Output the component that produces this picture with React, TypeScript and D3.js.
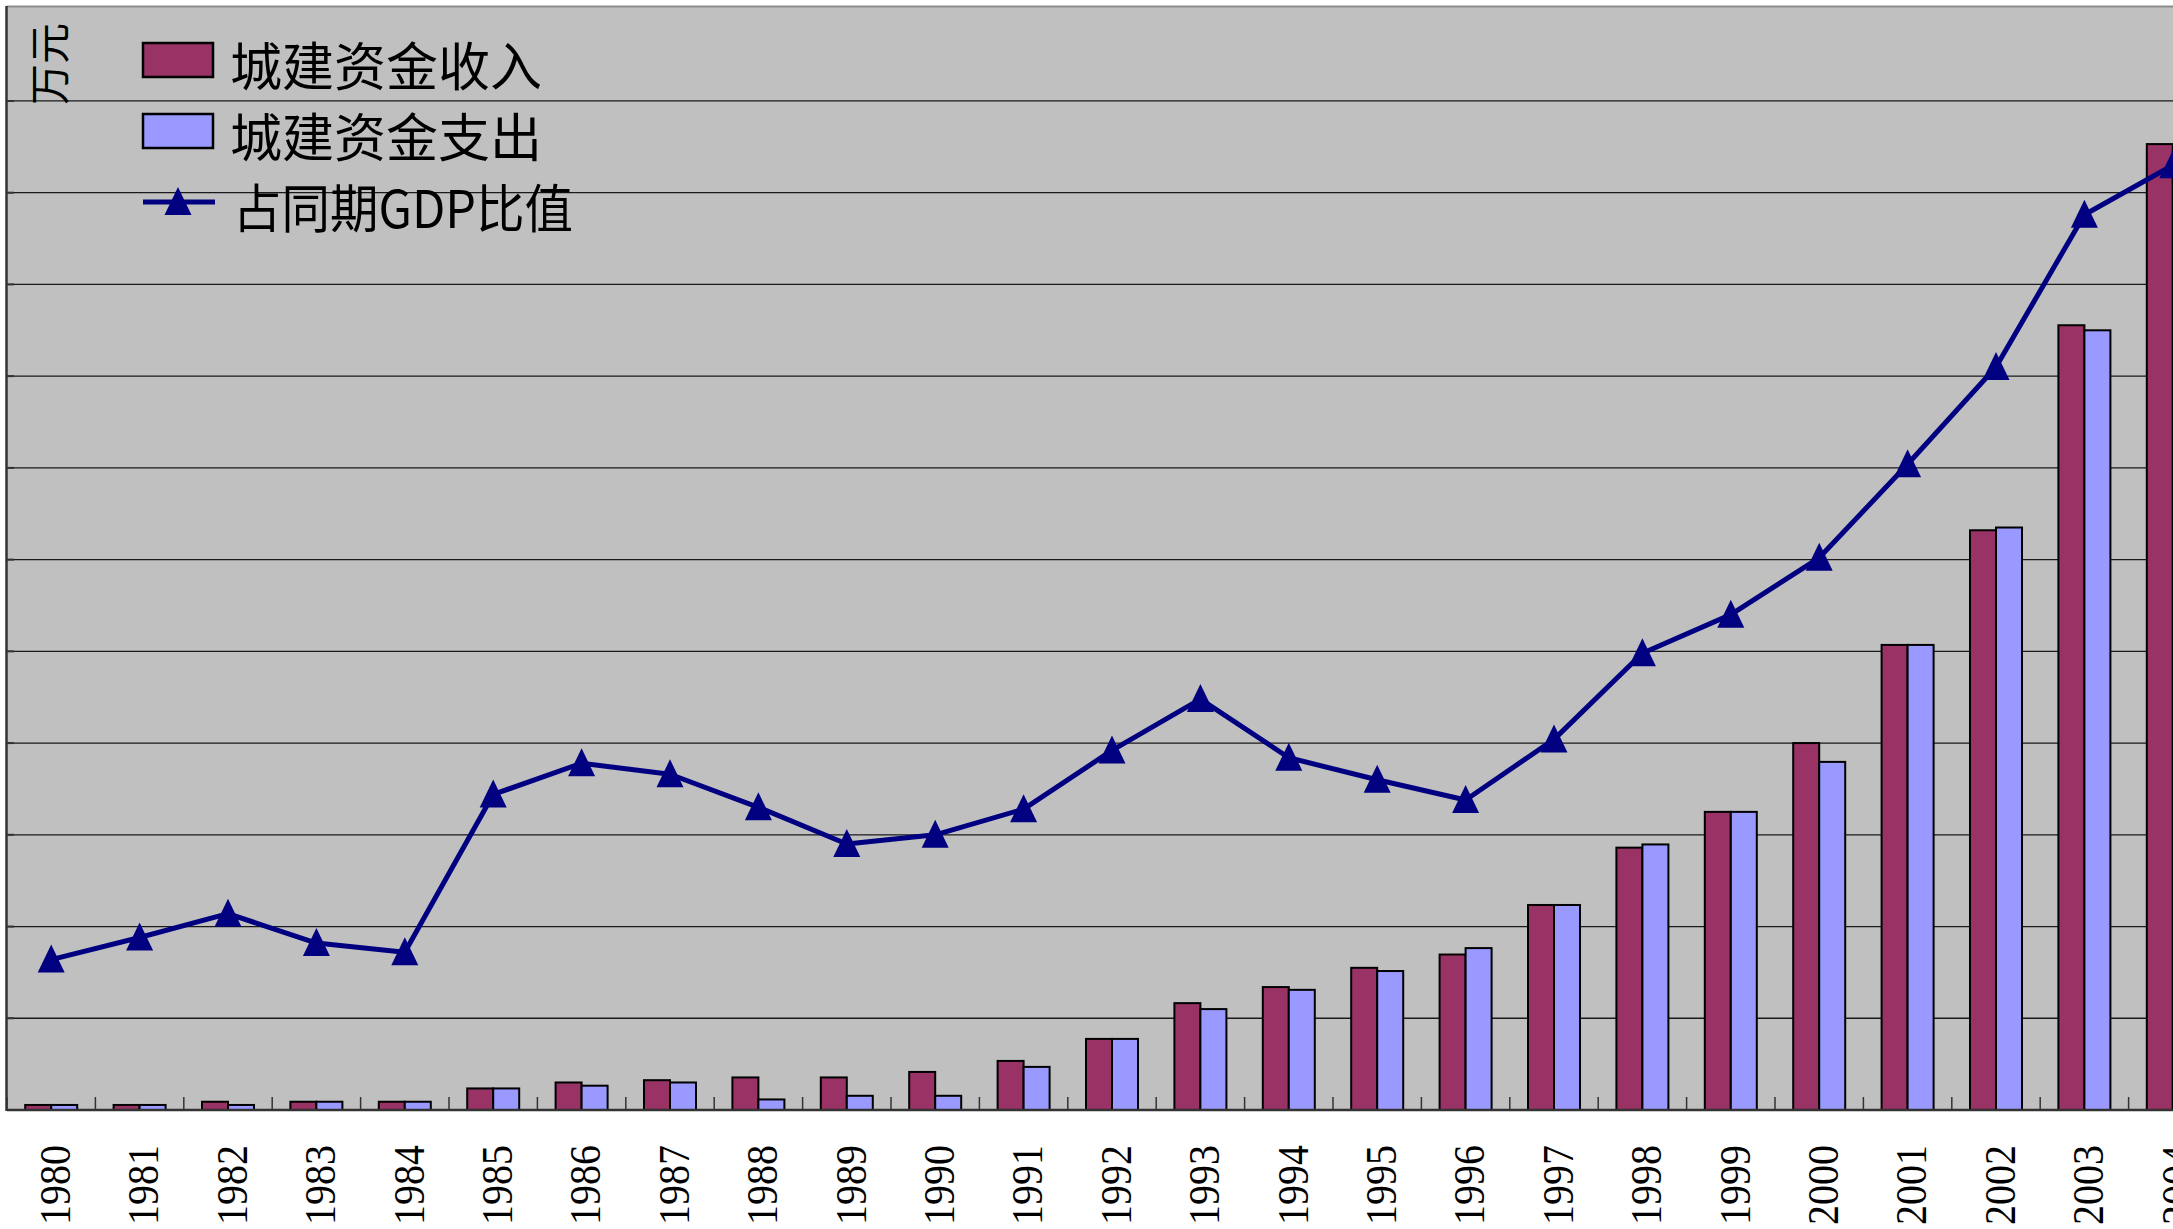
import React from "react";
import * as d3 from "d3";

// categories
const years = [
  "1980", "1981", "1982", "1983", "1984", "1985", "1986", "1987", "1988", "1989",
  "1990", "1991", "1992", "1993", "1994", "1995", "1996", "1997", "1998", "1999",
  "2000", "2001", "2002", "2003", "2004",
];

// 城建资金收入 (万元)
const income = [
  1100, 1100, 1800, 1800, 1800, 4700, 6000, 6500, 7100, 7100,
  8300, 10700, 15500, 23300, 26800, 31000, 33900, 44700, 57200, 65000,
  80000, 101400, 126400, 171100, 210600,
];

// 城建资金支出 (万元)
const expenditure = [
  1100, 1100, 1100, 1800, 1800, 4700, 5300, 6000, 2300, 3100,
  3100, 9400, 15500, 22000, 26200, 30300, 35300, 44700, 57900, 65000,
  75900, 101400, 127000, 170000, 209000,
];

// 占同期GDP比值 (%)
const gdpRatio = [
  0.82, 0.94, 1.07, 0.91, 0.86, 1.72, 1.89, 1.83, 1.65, 1.45,
  1.5, 1.64, 1.96, 2.24, 1.92, 1.8, 1.69, 2.02, 2.49, 2.7,
  3.01, 3.52, 4.05, 4.88, 5.15,
];

const seriesNames = ["城建资金收入", "城建资金支出", "占同期GDP比值"];
const yTicks = [20000, 40000, 60000, 80000, 100000, 120000, 140000, 160000, 180000, 200000, 220000];

const W = 2173;
const H = 1229;
const left = 7;
const top = 7;
const bottom = 1110;
const step = 91.73;

const BAR1 = "#993366";
const BAR2 = "#9999FF";
const LINE = "#000080";

const tri = (cx: number, cy: number, w = 27, h = 28) =>
  `M${cx},${cy - h / 2 - 1}L${cx + w / 2},${cy + h / 2 - 1}L${cx - w / 2},${cy + h / 2 - 1}Z`;

export default function App() {
  const x = d3.scaleBand().domain(years).range([left, left + years.length * 88.4]).paddingInner(0).paddingOuter(0);
  const inner = d3.scaleBand().domain(["in", "out"]).range([-26, 26]);
  const y = d3.scaleLinear().domain([0, 240000]).range([bottom, bottom - 12 * step]);
  const y2 = d3.scaleLinear().domain([0, 6]).range([bottom, bottom - 12 * step]);
  const cx = (yr: string) => (x(yr) as number) + x.bandwidth() / 2;

  const line = d3
    .line<number>()
    .x((_, i) => cx(years[i]))
    .y((d) => y2(d));

  return (
    <div style={{ position: "absolute", left: 0, top: 0, width: W, height: H, overflow: "hidden", background: "#fff" }}>
      <svg width={W} height={H} style={{ display: "block" }}>
        {/* plot background */}
        <rect x={left} y={top} width={W - left} height={bottom - top} fill="#C0C0C0" />
        <line x1={left} x2={W} y1={top - 0.5} y2={top - 0.5} stroke="#8c8c8c" strokeWidth={2} />

        {/* gridlines */}
        {yTicks.map((t) => (
          <g key={t}>
            <line x1={left} x2={W} y1={y(t)} y2={y(t)} stroke="#1a1a1a" strokeWidth={1.3} />
            <line x1={left} x2={left + 7} y1={y(t)} y2={y(t)} stroke="#333" strokeWidth={2} />
          </g>
        ))}

        {/* category ticks */}
        {years.map((yr) => (
          <line key={yr} x1={x(yr)} x2={x(yr)} y1={bottom - 13} y2={bottom} stroke="#333" strokeWidth={1.5} />
        ))}

        {/* bars */}
        {years.map((yr, i) => (
          <g key={yr}>
            <rect
              x={cx(yr) + (inner("in") as number)}
              y={y(income[i])}
              width={inner.bandwidth()}
              height={bottom - y(income[i])}
              fill={BAR1}
              stroke="#000"
              strokeWidth={2}
            />
            <rect
              x={cx(yr) + (inner("out") as number)}
              y={y(expenditure[i])}
              width={inner.bandwidth()}
              height={bottom - y(expenditure[i])}
              fill={BAR2}
              stroke="#000"
              strokeWidth={2}
            />
          </g>
        ))}

        {/* axes */}
        <line x1={left} x2={W} y1={bottom} y2={bottom} stroke="#333" strokeWidth={2.5} />
        <line x1={left - 0.5} x2={left - 0.5} y1={top - 1} y2={bottom + 1} stroke="#333" strokeWidth={2.5} />

        {/* ratio line */}
        <path d={line(gdpRatio) || ""} fill="none" stroke={LINE} strokeWidth={5} strokeLinejoin="round" />
        {gdpRatio.map((v, i) => (
          <path key={i} d={tri(cx(years[i]), y2(v))} fill={LINE} />
        ))}

        {/* year labels */}
        {years.map((yr) => (
          <text
            key={yr}
            transform={`translate(${cx(yr) + 3},1145) rotate(-90)`}
            dy="0.35em"
            textAnchor="end"
            fontFamily="'Liberation Serif', 'DejaVu Serif', serif"
            fontSize={45}
            textLength={80}
            lengthAdjust="spacingAndGlyphs"
            fill="#000"
          >
            {yr}
          </text>
        ))}

        {/* unit */}
        <text
          transform="translate(65,105) rotate(-90)"
          textAnchor="start"
          fontFamily="'Noto Sans CJK SC', sans-serif"
          fontSize={41}
          fill="#000"
        >
          万元
        </text>

        {/* legend */}
        <g fontFamily="'Noto Sans CJK SC', sans-serif" fontSize={52} fill="#000">
          <rect x={143} y={43} width={70} height={34} fill={BAR1} stroke="#000" strokeWidth={2.5} />
          <text x={230} y={86}>{seriesNames[0]}</text>
          <rect x={143} y={114} width={70} height={34} fill={BAR2} stroke="#000" strokeWidth={2.5} />
          <text x={230} y={157}>{seriesNames[1]}</text>
          <line x1={143} x2={215} y1={202} y2={202} stroke={LINE} strokeWidth={5} />
          <path d={tri(178, 202)} fill={LINE} />
          <text x={233} y={228} textLength={340} lengthAdjust="spacingAndGlyphs">
            {seriesNames[2]}
          </text>
        </g>
      </svg>
    </div>
  );
}
